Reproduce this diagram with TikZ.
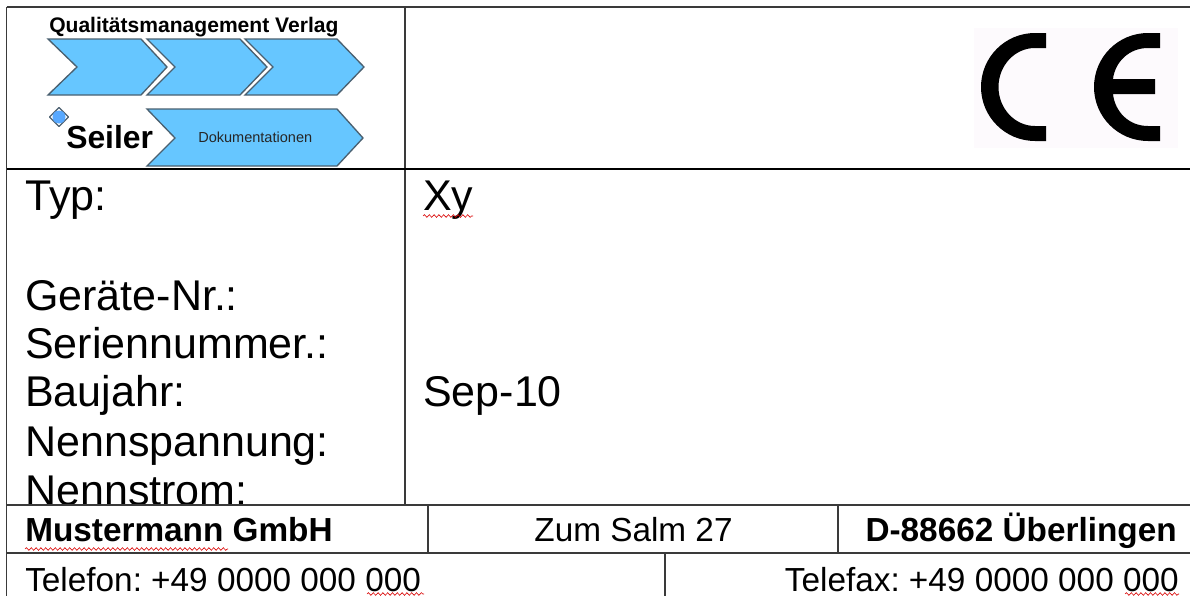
\documentclass[tikz,border=0pt]{standalone}
\usepackage{fontspec}
\setmainfont{Liberation Sans}
\usetikzlibrary{decorations.pathmorphing}
\definecolor{chev}{HTML}{66C6FF}
\definecolor{chevline}{HTML}{4A6070}
\definecolor{rule}{HTML}{3A3A3A}
\definecolor{cebg}{HTML}{FDFAFD}
\newcommand{\fsz}[1]{\fontsize{#1}{#1}\selectfont}
\tikzset{
  gridline/.style={draw=rule,line width=1.1pt},
  heavyline/.style={draw=black,line width=1.9pt},
  chevron/.style={fill=chev,draw=chevline,line width=1pt,line join=miter},
  big/.style={anchor=base west,inner sep=0pt,font=\fsz{32.25pt}},
  foot/.style={anchor=base west,inner sep=0pt,font=\fsz{25pt}},
  footb/.style={anchor=base west,inner sep=0pt,font=\fsz{25pt}\bfseries},
  squiggle/.style={draw=red!85!black,line width=0.45pt,decorate,decoration={snake,amplitude=1pt,segment length=3.6pt}}
}
\begin{document}
\frenchspacing
\begin{tikzpicture}[x=0.75pt,y=-0.75pt]
\useasboundingbox (0,0) rectangle (1190,596);
\fill[white] (0,0) rectangle (1190,596);
% CE background and mark
\fill[cebg] (974,28) rectangle (1178,148);
\fill[black] (1046,33) -- (1035,33) .. controls (1005.2,33) and (981,57.2) .. (981,87) .. controls (981,116.8) and (1005.2,141) .. (1035,141) -- (1046,141) -- (1046,126) -- (1035,126) .. controls (1014.8,126) and (998.5,108.5) .. (998.5,87) .. controls (998.5,65.5) and (1014.8,48) .. (1035,48) -- (1046,48) -- cycle;
\fill[black] (1160,33) -- (1148,33) .. controls (1118.2,33) and (1094,57.2) .. (1094,87) .. controls (1094,116.8) and (1118.2,141) .. (1148,141) -- (1160,141) -- (1160,126) -- (1148,126) .. controls (1129,126) and (1115,112) .. (1113,94) -- (1155,94) -- (1155,79) -- (1113,79) .. controls (1115,62) and (1129,48) .. (1148,48) -- (1160,48) -- cycle;
% grid
\draw[gridline] (6.5,7) -- (1190,7);
\draw[gridline] (6.5,7) -- (6.5,596);
\draw[gridline] (405,7) -- (405,505);
\draw[gridline] (6.5,505) -- (1190,505);
\draw[gridline] (428,505) -- (428,553);
\draw[gridline] (838,505) -- (838,553);
\draw[gridline] (6.5,553) -- (1190,553);
\draw[gridline] (665,553) -- (665,596);
\draw[heavyline] (6.5,169) -- (1190,169);
% logo
\node[anchor=base west,inner sep=0pt,font=\fsz{15.8pt}\bfseries] (verlag) at (49,32) {Qualitätsmanagement Verlag};
\draw[chevron] (48,39) -- (141,39) -- (167,67) -- (141,95) -- (48,95) -- (77,67) -- cycle;
\draw[chevron] (147,39) -- (240,39) -- (267,67) -- (240,95) -- (147,95) -- (175,67) -- cycle;
\draw[chevron] (245,39) -- (337,39) -- (364,67) -- (337,95) -- (245,95) -- (273,67) -- cycle;
\draw[chevron] (147,109) -- (337,109) -- (363,138) -- (337,166) -- (147,166) -- (175,138) -- cycle;
\node[anchor=base west,inner sep=0pt,font=\fsz{10.9pt},text=black!85] (doku) at (198,142) {Dokumentationen};
\node[anchor=base west,inner sep=0pt,font=\fsz{23.9pt}\bfseries] (seiler) at (66,148) {Seiler};
\draw[draw=chevline,line width=0.9pt,fill=none,line join=round] (59,107.5) -- (68.5,117) -- (59,126.5) -- (49.5,117) -- cycle;
\fill[chev!85!blue] (59,117) circle[radius=6.5];
% texts
\begin{scope}
\clip (0,170) rectangle (404,503.5);
\node[big] (typ) at (25,210) {Typ:};
\node[big] (geraet) at (25,310) {Geräte-Nr.:};
\node[big] (serie) at (25,358) {Seriennummer.:};
\node[big] (bau) at (25,406) {Baujahr:};
\node[big] (spann) at (25,456) {Nennspannung:};
\node[big] (strom) at (25,505) {Nennstrom:};
\end{scope}
\node[big] (xy) at (423,210) {Xy};
\node[big] (sep) at (423,406) {Sep-10};
\node[footb] (muster) at (25,541) {Mustermann GmbH};
\node[foot,anchor=base] (salm) at (633.5,541) {Zum Salm 27};
\node[footb,anchor=base east] (ort) at (1177,541) {D-88662 Überlingen};
\node[foot] (tel) at (25,591) {Telefon: +49 0000 000 000};
\node[foot,anchor=base east] (fax) at (1179,591) {Telefax: +49 0000 000 000};
% spell-check squiggles
\draw[squiggle] (423,216) -- (473,216);
\draw[squiggle] (25,549) -- (228,549);
\draw[squiggle] (367,594) -- (424,594);
\draw[squiggle] (1125,594) -- (1179,594);
\end{tikzpicture}
\end{document}
